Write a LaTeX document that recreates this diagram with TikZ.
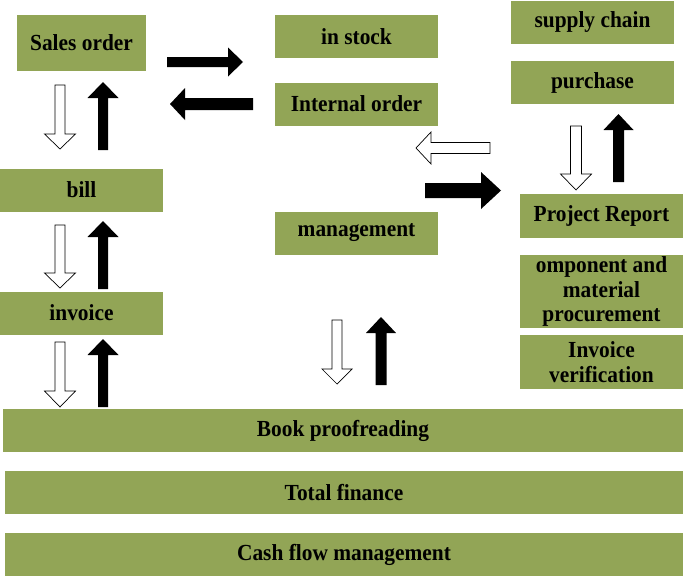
\documentclass[tikz,border=0pt]{standalone}
\usepackage{fontspec}
\setmainfont{Liberation Serif}[FakeStretch=0.93]
\usetikzlibrary{calc}

\definecolor{boxgreen}{RGB}{146,165,86}

% block arrow: [style]{tail}{tip}{shaft half width}{head half width}{head length}
\newcommand{\blockarrow}[6][]{%
  \coordinate (ba-h) at ($(#3)!#6!(#2)$);
  \path[#1] ($(#2)!#4!90:(#3)$) -- ($(ba-h)!#4!90:(#3)$) -- ($(ba-h)!#5!90:(#3)$)
    -- (#3) -- ($(ba-h)!#5!-90:(#3)$) -- ($(ba-h)!#4!-90:(#3)$) -- ($(#2)!#4!-90:(#3)$) -- cycle;
}

\begin{document}
\begin{tikzpicture}[
						x=1pt, y=-1pt,
						square/.style = {fill=boxgreen, inner sep=0pt, minimum width=163pt, minimum height=43pt, align=center, font=\fontsize{23}{24.5}\selectfont\bfseries},
						wsquare/.style = {square, minimum width=678pt},
						warrow/.style = {draw=black, fill=white, line width=0.7pt, line join=miter},
						barrow/.style = {fill=black},
					]
\useasboundingbox (0,0) rectangle (685,576);

\node[square, minimum width=129pt, minimum height=56pt] (1) at (81.5,43) {Sales order};
\node[square] (2) at (356.5,36.5) {in stock};
\node[square] (3) at (356.5,104) {Internal order};
\node[square] (4) at (81.5,190) {bill};
\node[square] (5) at (356.5,233) {management};
\node[square] (6) at (81.5,313) {invoice};
\node[square] (7) at (592.5,22.5) {supply chain};
\node[square] (8) at (592.5,82.5) {purchase};
\node[square, minimum height=44pt] (9) at (601.5,216) {Project Report};
\node[square, minimum height=73pt] (10) at (601.5,291.5) {omponent and\\material\\procurement};
\node[square, minimum height=54pt] (11) at (601.5,362) {Invoice\\verification};
\node[wsquare, minimum width=680pt] (12) at (343,430.5) {Book proofreading};
\node[wsquare] (13) at (344,492.5) {Total finance};
\node[wsquare] (14) at (344,554.5) {Cash flow management};

% arrow ends
\coordinate (1r) at (167,62);   \coordinate (2l) at (243,62);
\coordinate (3l) at (253,104);  \coordinate (1e) at (170,104);
\coordinate (1s) at (60,85);    \coordinate (4n) at (60,149);
\coordinate (4s) at (103,150);  \coordinate (1n) at (103,82);
\coordinate (4d) at (60,225);   \coordinate (6n) at (60,288);
\coordinate (6u) at (103,289);  \coordinate (4u) at (103,221);
\coordinate (6s) at (60,342);   \coordinate (12n) at (60,407);
\coordinate (12u) at (103,407); \coordinate (6d) at (103,339);
\coordinate (5s) at (337,320);  \coordinate (12m) at (337,384);
\coordinate (12v) at (381,385); \coordinate (5d) at (381,317);
\coordinate (9w) at (490,148);  \coordinate (3r) at (416,148);
\coordinate (5r) at (425,190.5);\coordinate (9l) at (501,190.5);
\coordinate (8s) at (576,126);  \coordinate (9n) at (576,190);
\coordinate (9u) at (618.5,182);\coordinate (8d) at (618.5,114);

\blockarrow[barrow]{1r}{2l}{5pt}{14.5pt}{15pt}
\blockarrow[barrow]{3l}{1e}{6pt}{16pt}{15pt}
\blockarrow[warrow]{1s}{4n}{5pt}{15.5pt}{15pt}
\blockarrow[barrow]{4s}{1n}{5pt}{15.5pt}{16pt}
\blockarrow[warrow]{4d}{6n}{5pt}{15.5pt}{15pt}
\blockarrow[barrow]{6u}{4u}{5pt}{15.5pt}{16pt}
\blockarrow[warrow]{6s}{12n}{5pt}{15.5pt}{16pt}
\blockarrow[barrow]{12u}{6d}{5pt}{15.5pt}{16pt}
\blockarrow[warrow]{5s}{12m}{5pt}{15pt}{15pt}
\blockarrow[barrow]{12v}{5d}{5.5pt}{15pt}{16pt}
\blockarrow[warrow]{9w}{3r}{5.5pt}{16pt}{15pt}
\blockarrow[barrow]{5r}{9l}{7.5pt}{18.5pt}{20pt}
\blockarrow[warrow]{8s}{9n}{5.5pt}{15.5pt}{16pt}
\blockarrow[barrow]{9u}{8d}{5.5pt}{15pt}{16pt}

\end{tikzpicture}
\end{document}
